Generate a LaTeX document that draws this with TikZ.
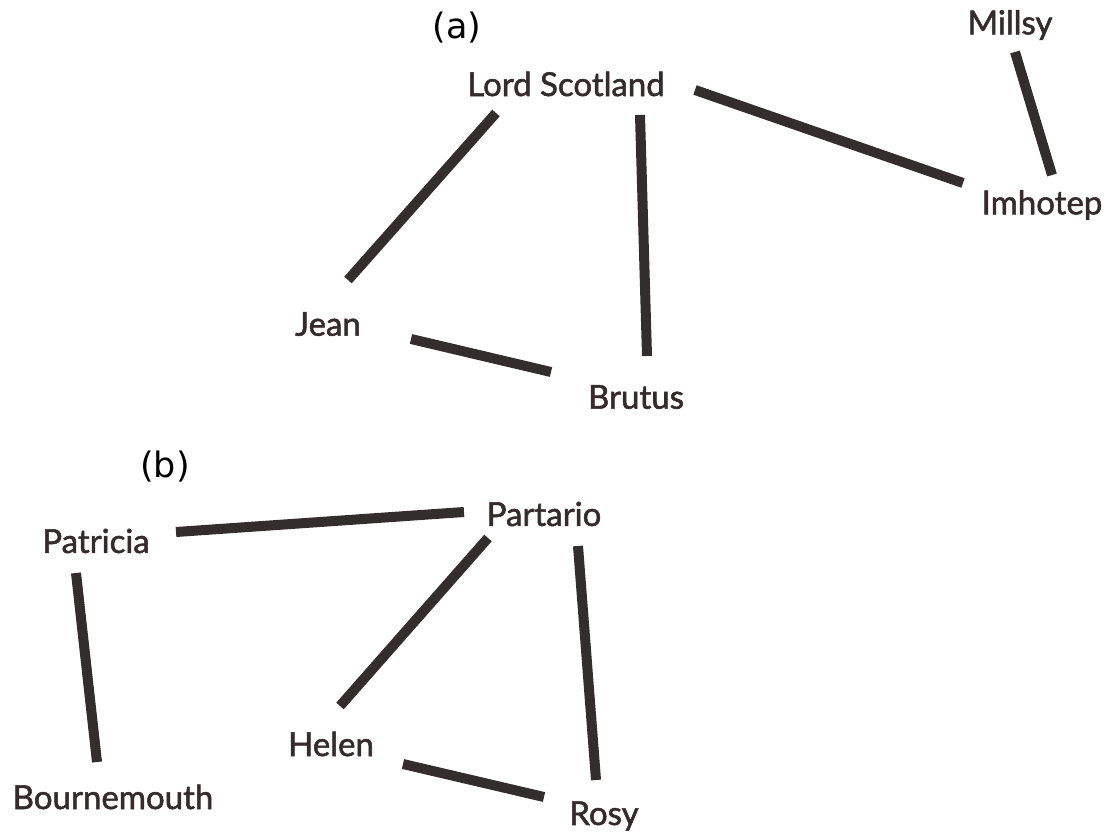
\documentclass[tikz,border=0pt]{standalone}
\usepackage{fontspec}
\setmainfont{Lato}[FakeBold=1.6]
\newfontfamily\tagfont{DejaVu Sans}
\definecolor{ink}{HTML}{352B2C}
\definecolor{edgecolor}{HTML}{332D2D}
\tikzset{
    x={1pt},
    y={-1pt},
    animal/.style={
        font={\fontsize{33}{36}\selectfont},
        text=ink,
        inner sep=0pt,
    },
    panel tag/.style={
        font={\tagfont\fontsize{35}{38}\selectfont},
        text=black,
        inner sep=0pt,
    },
    link/.style={
        draw=edgecolor,
        line width={10pt},
    },
}
\begin{document}
\begin{tikzpicture}
\useasboundingbox (0,0) rectangle (1109,832);
% panel (a)
\node[panel tag] (taga) at (457,28) {(a)};
\node[animal] (lord) at (566,84) {Lord Scotland};
\node[animal] (millsy) at (1010,25) {Millsy};
\node[animal] (imhotep) at (1042,205) {Imhotep};
\node[animal] (jean) at (328,324) {Jean};
\node[animal] (brutus) at (636,397) {Brutus};
% panel (b)
\node[panel tag] (tagb) at (165,467) {(b)};
\node[animal] (patricia) at (96,541) {Patricia};
\node[animal] (partario) at (544,514) {Partario};
\node[animal] (helen) at (331,744) {Helen};
\node[animal] (bourne) at (113,797) {Bournemouth};
\node[animal] (rosy) at (604,816) {Rosy};
% edges (a)
\path[link] ([shift={(-70,29)}]lord.center) -- ([shift={(20,-44)}]jean.center);
\path[link] ([shift={(74,31)}]lord.center) -- ([shift={(11,-41)}]brutus.center);
\path[link] ([shift={(129,6)}]lord.center) -- ([shift={(-79,-22)}]imhotep.center);
\path[link] ([shift={(5,27)}]millsy.center) -- ([shift={(10,-30)}]imhotep.center);
\path[link] ([shift={(83,15)}]jean.center) -- ([shift={(-85,-25)}]brutus.center);
% edges (b)
\path[link] ([shift={(80,-9)}]patricia.center) -- ([shift={(-80,-2)}]partario.center);
\path[link] ([shift={(-20,32)}]patricia.center) -- ([shift={(-16,-35)}]bourne.center);
\path[link] ([shift={(-56,24)}]partario.center) -- ([shift={(9,-38)}]helen.center);
\path[link] ([shift={(34,32)}]partario.center) -- ([shift={(-8,-36)}]rosy.center);
\path[link] ([shift={(72,20)}]helen.center) -- ([shift={(-60,-19)}]rosy.center);
\end{tikzpicture}
\end{document}
